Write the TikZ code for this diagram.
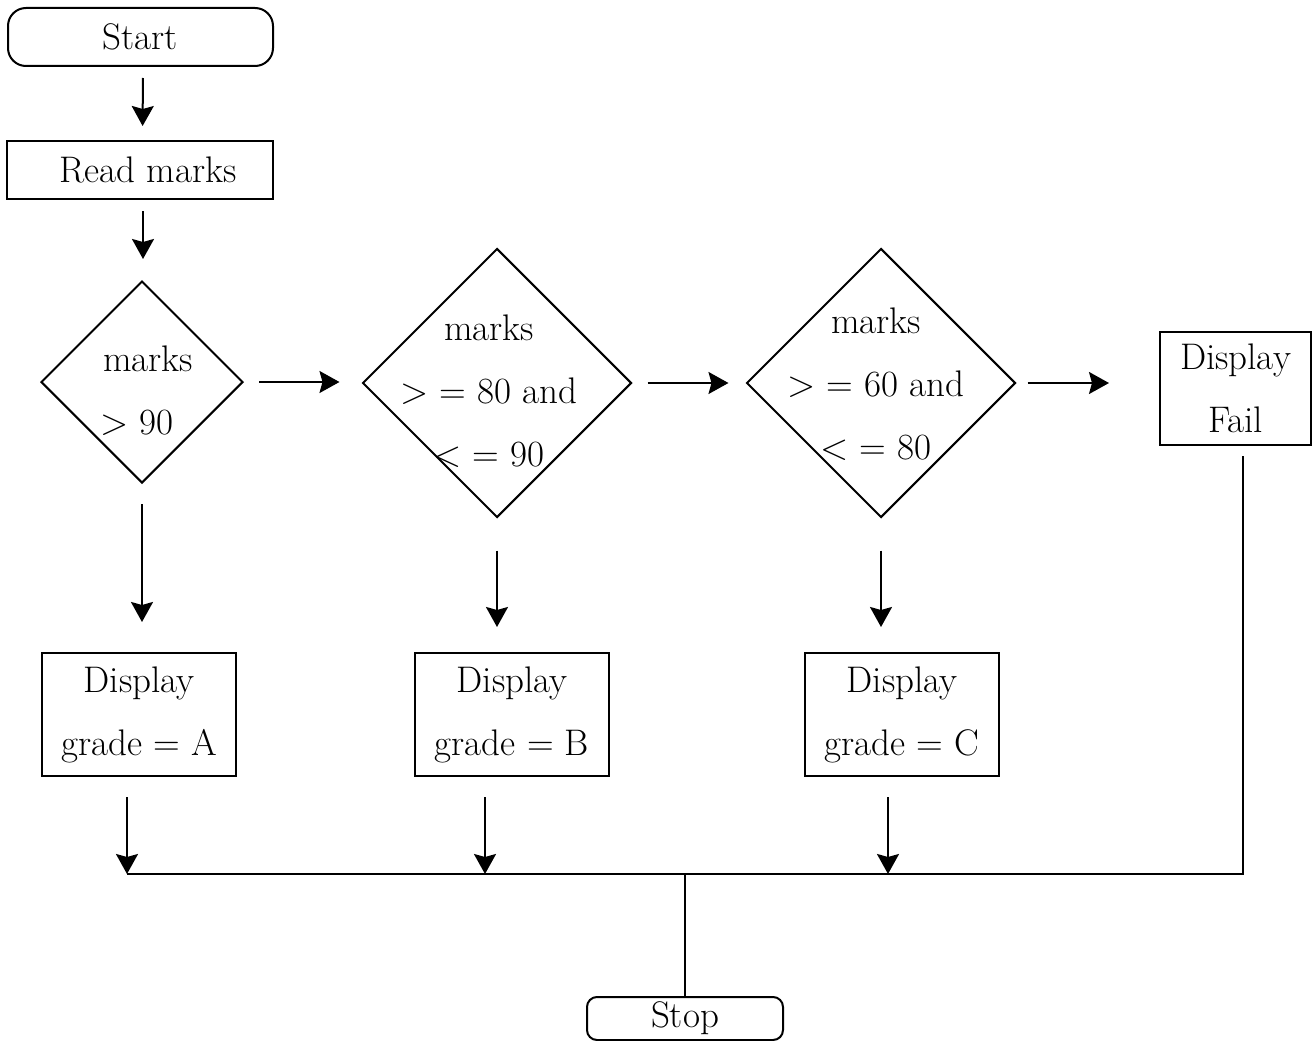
\documentclass[tikz,border=0pt]{standalone}
\usepackage{tikz}
\usetikzlibrary{arrows.meta,shapes.geometric}
\tikzset{
	terminal/.style={draw, rounded corners=18pt, inner sep=0pt},
	procbox/.style={draw, rectangle, inner sep=0pt, align=center},
	decision/.style={draw, diamond, aspect=1, inner sep=0pt},
	flow/.style={-{Stealth[length=20pt, width=22pt, inset=3pt]}, black}
}

\begin{document}
\begin{tikzpicture}[x=1pt, y=-1pt, line width=2pt, font=\fontsize{37}{63}\selectfont]
		\useasboundingbox (0, 0) rectangle (1315, 1041);

		% terminals and boxes
		\node[terminal, minimum width=265pt, minimum height=58pt] (start) at (140.5, 37) {Start};
		\node[procbox, minimum width=266pt, minimum height=58pt] (read) at (140, 170) {\hspace{16pt}Read marks};

		\node[decision, minimum size=202pt] (d1) at (142, 382) {};
		\node[decision, minimum size=269pt] (d2) at (497, 383) {};
		\node[decision, minimum size=269pt] (d3) at (881, 383) {};

		\node[align=left, anchor=west] (t1) at (96, 391) {\hspace{3pt}marks\\> 90};
		\node[align=center] (t2) at (489, 391) {marks\\> = 80 and\\< = 90};
		\node[align=center] (t3) at (876, 384) {marks\\> = 60 and\\< = 80};

		\node[procbox, minimum width=151pt, minimum height=113pt] (fail) at (1235.5, 388.5) {Display\\Fail};

		\node[procbox, minimum width=194pt, minimum height=123pt] (ga) at (139, 714.5) {Display\\grade = A};
		\node[procbox, minimum width=194pt, minimum height=123pt] (gb) at (512, 714.5) {Display\\grade = B};
		\node[procbox, minimum width=194pt, minimum height=123pt] (gc) at (902, 714.5) {Display\\grade = C};

		\node[terminal, rounded corners=10pt, minimum width=196pt, minimum height=43pt] (stop) at (685, 1018.5) {Stop};

		% bus line
		\coordinate (busA) at (127, 874);
		\coordinate (busB) at (485, 874);
		\coordinate (busC) at (888, 874);
		\coordinate (busF) at (1243, 874);
		\coordinate (busS) at (stop.north |- busA);

		% arrows
		\draw[flow, shorten <=11pt, shorten >=14pt] ([xshift=2.5pt]start.south) to ([xshift=2.5pt]read.north);
		\draw[flow, shorten <=11pt, shorten >=21pt] ([xshift=3pt]read.south) to ([xshift=3pt]read.south |- d1.north);
		\draw[flow, shorten <=15pt, shorten >=22pt] (d1.east) to (d1.east -| d2.west);
		\draw[flow, shorten <=15pt, shorten >=17pt] (d2.east) to (d2.east -| d3.west);
		\draw[flow, shorten <=11pt, shorten >=50pt] (d3.east) to (d3.east -| fail.west);

		\draw[flow, shorten <=20pt, shorten >=30pt] (d1.south) to (d1.south |- ga.north);
		\draw[flow, shorten <=32pt, shorten >=25pt] (d2.south) to (d2.south |- gb.north);
		\draw[flow, shorten <=32pt, shorten >=25pt] (d3.south) to (d3.south |- gc.north);

		\draw[flow, shorten <=20pt] (ga.south -| busA) to (busA);
		\draw[flow, shorten <=20pt] (gb.south -| busB) to (busB);
		\draw[flow, shorten <=20pt] (gc.south -| busC) to (busC);

		\draw[shorten <=10pt] (fail.south -| busF) to (busF) to (busA);
		\draw (busS) to (stop.north);
\end{tikzpicture}
\end{document}
